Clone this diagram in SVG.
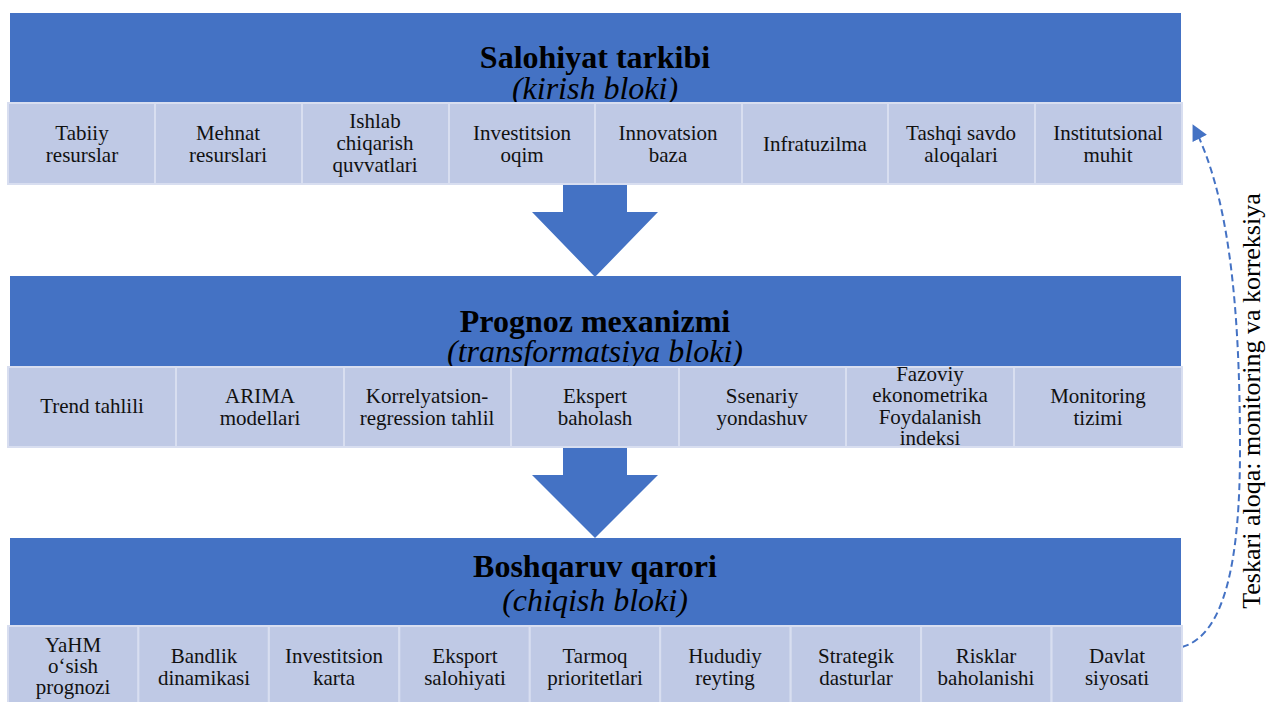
<svg xmlns="http://www.w3.org/2000/svg" width="1269" height="702" viewBox="0 0 1269 702">
<defs>
<style>
.band{fill:#4472c4}
.cell{fill:#bfc9e5;stroke:#d8def0;stroke-width:2}
.t{font-family:"Liberation Serif","Times New Roman",serif;font-size:21px;fill:#111;text-anchor:middle}
.h{font-family:"Liberation Serif","Times New Roman",serif;font-size:32px;font-weight:bold;fill:#000;text-anchor:middle}
.hi{font-family:"Liberation Serif","Times New Roman",serif;font-size:32px;font-style:italic;fill:#000;text-anchor:middle}
.arr{fill:#4472c4}
.fb{fill:none;stroke:#4472c4;stroke-width:2;stroke-dasharray:7,4}
</style>
<marker id="ah" viewBox="0 0 10 10" refX="8" refY="5" markerWidth="8" markerHeight="8" orient="auto" markerUnits="strokeWidth">
<path d="M0,0 L10,5 L0,10 z" fill="#4472c4"/>
</marker>
</defs>
<rect width="1269" height="702" fill="#fff"/>

<g id="connectors">
<polygon class="arr" points="563,184 627,184 627,212 658,212 595,277 532,212 563,212"/>
<polygon class="arr" points="563,447 627,447 627,475 658,475 595,538 532,475 563,475"/>
<path class="fb" d="M1182,647 C1225,635 1240,560 1240,450 C1240,300 1228,195 1194,127" marker-end="url(#ah)"/>
</g>

<g id="block-input">
<rect class="band" x="10" y="13" width="1171" height="90"/>
<text class="h" x="595" y="68">Salohiyat tarkibi</text>
<text class="hi" x="595" y="99">(kirish bloki)</text>
</g>
<g id="input-cells">
<g id="c1-1"><rect class="cell" x="8" y="103" width="147" height="81"/><text class="t" x="82" y="140">Tabiiy</text><text class="t" x="82" y="162">resurslar</text></g>
<g id="c1-2"><rect class="cell" x="155" y="103" width="147" height="81"/><text class="t" x="228" y="140">Mehnat</text><text class="t" x="228" y="162">resurslari</text></g>
<g id="c1-3"><rect class="cell" x="302" y="103" width="147" height="81"/><text class="t" x="375" y="128">Ishlab</text><text class="t" x="375" y="150">chiqarish</text><text class="t" x="375" y="172">quvvatlari</text></g>
<g id="c1-4"><rect class="cell" x="449" y="103" width="146" height="81"/><text class="t" x="522" y="140">Investitsion</text><text class="t" x="522" y="162">oqim</text></g>
<g id="c1-5"><rect class="cell" x="595" y="103" width="147" height="81"/><text class="t" x="668" y="140">Innovatsion</text><text class="t" x="668" y="162">baza</text></g>
<g id="c1-6"><rect class="cell" x="742" y="103" width="146" height="81"/><text class="t" x="815" y="151">Infratuzilma</text></g>
<g id="c1-7"><rect class="cell" x="888" y="103" width="147" height="81"/><text class="t" x="961" y="140">Tashqi savdo</text><text class="t" x="961" y="162">aloqalari</text></g>
<g id="c1-8"><rect class="cell" x="1035" y="103" width="147" height="81"/><text class="t" x="1108" y="140">Institutsional</text><text class="t" x="1108" y="162">muhit</text></g>
</g>

<g id="block-transform">
<rect class="band" x="10" y="276" width="1171" height="91"/>
<text class="h" x="595" y="332">Prognoz mexanizmi</text>
<text class="hi" x="595" y="362">(transformatsiya bloki)</text>
</g>
<g id="transform-cells">
<g id="c2-1"><rect class="cell" x="8" y="367" width="168" height="80"/><text class="t" x="92" y="413">Trend tahlili</text></g>
<g id="c2-2"><rect class="cell" x="176" y="367" width="168" height="80"/><text class="t" x="260" y="403">ARIMA</text><text class="t" x="260" y="425">modellari</text></g>
<g id="c2-3"><rect class="cell" x="344" y="367" width="167" height="80"/><text class="t" x="427" y="403">Korrelyatsion-</text><text class="t" x="427" y="425">regression tahlil</text></g>
<g id="c2-4"><rect class="cell" x="511" y="367" width="168" height="80"/><text class="t" x="595" y="403">Ekspert</text><text class="t" x="595" y="425">baholash</text></g>
<g id="c2-5"><rect class="cell" x="679" y="367" width="167" height="80"/><text class="t" x="762" y="403">Ssenariy</text><text class="t" x="762" y="425">yondashuv</text></g>
<g id="c2-6"><rect class="cell" x="846" y="367" width="168" height="80"/><text class="t" x="930" y="381">Fazoviy</text><text class="t" x="930" y="402">ekonometrika</text><text class="t" x="930" y="424">Foydalanish</text><text class="t" x="930" y="445">indeksi</text></g>
<g id="c2-7"><rect class="cell" x="1014" y="367" width="168" height="80"/><text class="t" x="1098" y="403">Monitoring</text><text class="t" x="1098" y="425">tizimi</text></g>
</g>

<g id="block-output">
<rect class="band" x="10" y="538" width="1171" height="88"/>
<text class="h" x="595" y="577">Boshqaruv qarori</text>
<text class="hi" x="595" y="611">(chiqish bloki)</text>
</g>
<g id="output-cells">
<g id="c3-1"><rect class="cell" x="8" y="626" width="130.4" height="80"/><text class="t" x="73" y="652">YaHM</text><text class="t" x="73" y="673">o‘sish</text><text class="t" x="73" y="694">prognozi</text></g>
<g id="c3-2"><rect class="cell" x="138.4" y="626" width="130.4" height="80"/><text class="t" x="204" y="663">Bandlik</text><text class="t" x="204" y="685">dinamikasi</text></g>
<g id="c3-3"><rect class="cell" x="268.9" y="626" width="130.4" height="80"/><text class="t" x="334" y="663">Investitsion</text><text class="t" x="334" y="685">karta</text></g>
<g id="c3-4"><rect class="cell" x="399.3" y="626" width="130.4" height="80"/><text class="t" x="465" y="663">Eksport</text><text class="t" x="465" y="685">salohiyati</text></g>
<g id="c3-5"><rect class="cell" x="529.8" y="626" width="130.4" height="80"/><text class="t" x="595" y="663">Tarmoq</text><text class="t" x="595" y="685">prioritetlari</text></g>
<g id="c3-6"><rect class="cell" x="660.2" y="626" width="130.4" height="80"/><text class="t" x="725" y="663">Hududiy</text><text class="t" x="725" y="685">reyting</text></g>
<g id="c3-7"><rect class="cell" x="790.7" y="626" width="130.4" height="80"/><text class="t" x="856" y="663">Strategik</text><text class="t" x="856" y="685">dasturlar</text></g>
<g id="c3-8"><rect class="cell" x="921.1" y="626" width="130.4" height="80"/><text class="t" x="986" y="663">Risklar</text><text class="t" x="986" y="685">baholanishi</text></g>
<g id="c3-9"><rect class="cell" x="1051.6" y="626" width="130.4" height="80"/><text class="t" x="1117" y="663">Davlat</text><text class="t" x="1117" y="685">siyosati</text></g>
</g>

<g id="feedback-label">
<text x="0" y="0" transform="translate(1260,401) rotate(-90)" style="font-family:'Liberation Serif','Times New Roman',serif;font-size:26px;fill:#000;text-anchor:middle">Teskari aloqa: monitoring va korreksiya</text>
</g>
</svg>
